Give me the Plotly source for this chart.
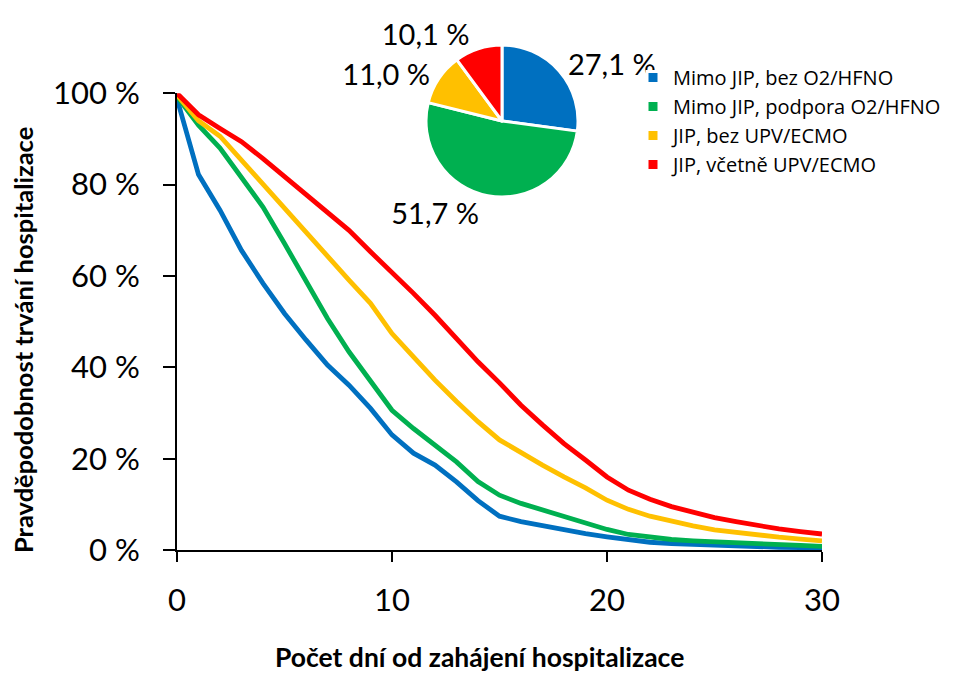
import plotly.graph_objects as go

days = list(range(0, 31))

blue = [98.8, 82.2, 74.4, 65.6, 58.4, 51.8, 46.0, 40.5, 36.1, 31.0, 25.2, 21.2, 18.6, 14.9, 10.8,
        7.4, 6.2, 5.3, 4.4, 3.6, 2.9, 2.2, 1.7, 1.4, 1.2, 1.0, 0.8, 0.7, 0.6, 0.55, 0.5]
green = [99.3, 93.0, 88.0, 81.7, 75.1, 67.1, 58.7, 50.7, 43.4, 36.8, 30.6, 26.6, 23.0, 19.3, 15.0,
         12.0, 10.2, 8.75, 7.3, 5.8, 4.5, 3.4, 2.8, 2.3, 2.0, 1.75, 1.5, 1.3, 1.1, 1.0, 0.8]
yellow = [99.6, 94.0, 90.6, 85.3, 80.2, 74.8, 69.7, 64.2, 59.1, 54.0, 47.4, 42.3, 37.2, 32.5, 28.1,
          24.1, 21.2, 18.6, 16.0, 13.6, 10.9, 8.9, 7.4, 6.3, 5.3, 4.4, 3.8, 3.2, 2.8, 2.4, 2.0]
red = [100.0, 95.3, 92.3, 89.4, 85.7, 81.7, 78.0, 74.0, 70.0, 65.3, 60.9, 56.2, 51.4, 46.3, 41.2,
       36.6, 31.7, 27.4, 23.3, 19.7, 16.0, 13.1, 11.1, 9.5, 8.2, 7.1, 6.2, 5.3, 4.6, 4.0, 3.5]

categories = ["Mimo JIP, bez O2/HFNO", "Mimo JIP, podpora O2/HFNO",
              "JIP, bez UPV/ECMO", "JIP, včetně UPV/ECMO"]
shares = [27.1, 51.7, 11.0, 10.1]
colors = ["#0070C0", "#00B050", "#FFC000", "#FF0000"]

x_ticks = [0, 10, 20, 30]
y_ticks = [0, 20, 40, 60, 80, 100]
y_ticktext = [f"{v} %" for v in y_ticks]

FONT = "Lato"
W, H = 959, 673

fig = go.Figure()
for vals, col, name in zip([blue, green, yellow, red], colors, categories):
    fig.add_trace(go.Scatter(x=days, y=vals, mode="lines", name=name,
                             line=dict(color=col, width=4.8), showlegend=False,
                             hoverinfo="skip"))

pie_text = [f"{v:.1f} %".replace(".", ",") for v in shares]
fig.add_trace(go.Pie(
    labels=categories, values=shares, text=pie_text, textinfo="text",
    textposition="outside", sort=False, direction="clockwise", rotation=0,
    marker=dict(colors=colors, line=dict(color="white", width=3)),
    textfont=dict(family=FONT, size=29, color="black"),
    domain=dict(x=[(502 - 76) / W, (502 + 76) / W], y=[(H - 197) / H, (H - 45) / H]),
    showlegend=True, hoverinfo="skip"))

fig.update_layout(
    width=W, height=H, autosize=False,
    margin=dict(l=0, r=0, t=0, b=0),
    paper_bgcolor="white", plot_bgcolor="white",
    font=dict(family=FONT, color="black"),
    showlegend=True,
    legend=dict(x=633 / W, y=(H - 58) / H, xanchor="left", yanchor="top",
                font=dict(family="Open Sans", size=20, color="black"),
                bgcolor="rgba(0,0,0,0)", tracegroupgap=0),
    xaxis=dict(domain=[177 / W, 822 / W], range=[0, 30], tickvals=x_ticks,
               showgrid=False, zeroline=False, showline=True, linecolor="black",
               linewidth=2, ticks="outside", ticklen=10, tickwidth=2, tickcolor="black",
               tickfont=dict(family=FONT, size=31), ticklabelstandoff=12,
               automargin=False),
    yaxis=dict(domain=[(H - 550) / H, (H - 93.3) / H], range=[0, 100], tickvals=y_ticks,
               ticktext=y_ticktext, showgrid=False, zeroline=False, showline=True,
               linecolor="black", linewidth=2, ticks="outside", ticklen=12, tickwidth=2,
               tickcolor="black", tickfont=dict(family=FONT, size=31),
               ticklabelstandoff=17, automargin=False),
    annotations=[
        dict(text="<b>Počet dní od zahájení hospitalizace</b>", x=479 / W, y=(H - 657) / H,
             xref="paper", yref="paper", showarrow=False, xanchor="center", yanchor="middle",
             font=dict(family=FONT, size=26.5)),
        dict(text="<b>Pravděpodobnost trvání hospitalizace</b>", x=23 / W, y=(H - 340) / H,
             xref="paper", yref="paper", showarrow=False, xanchor="center", yanchor="middle",
             textangle=-90, font=dict(family=FONT, size=25.5)),
    ],
)

fig.write_html("out.html")
